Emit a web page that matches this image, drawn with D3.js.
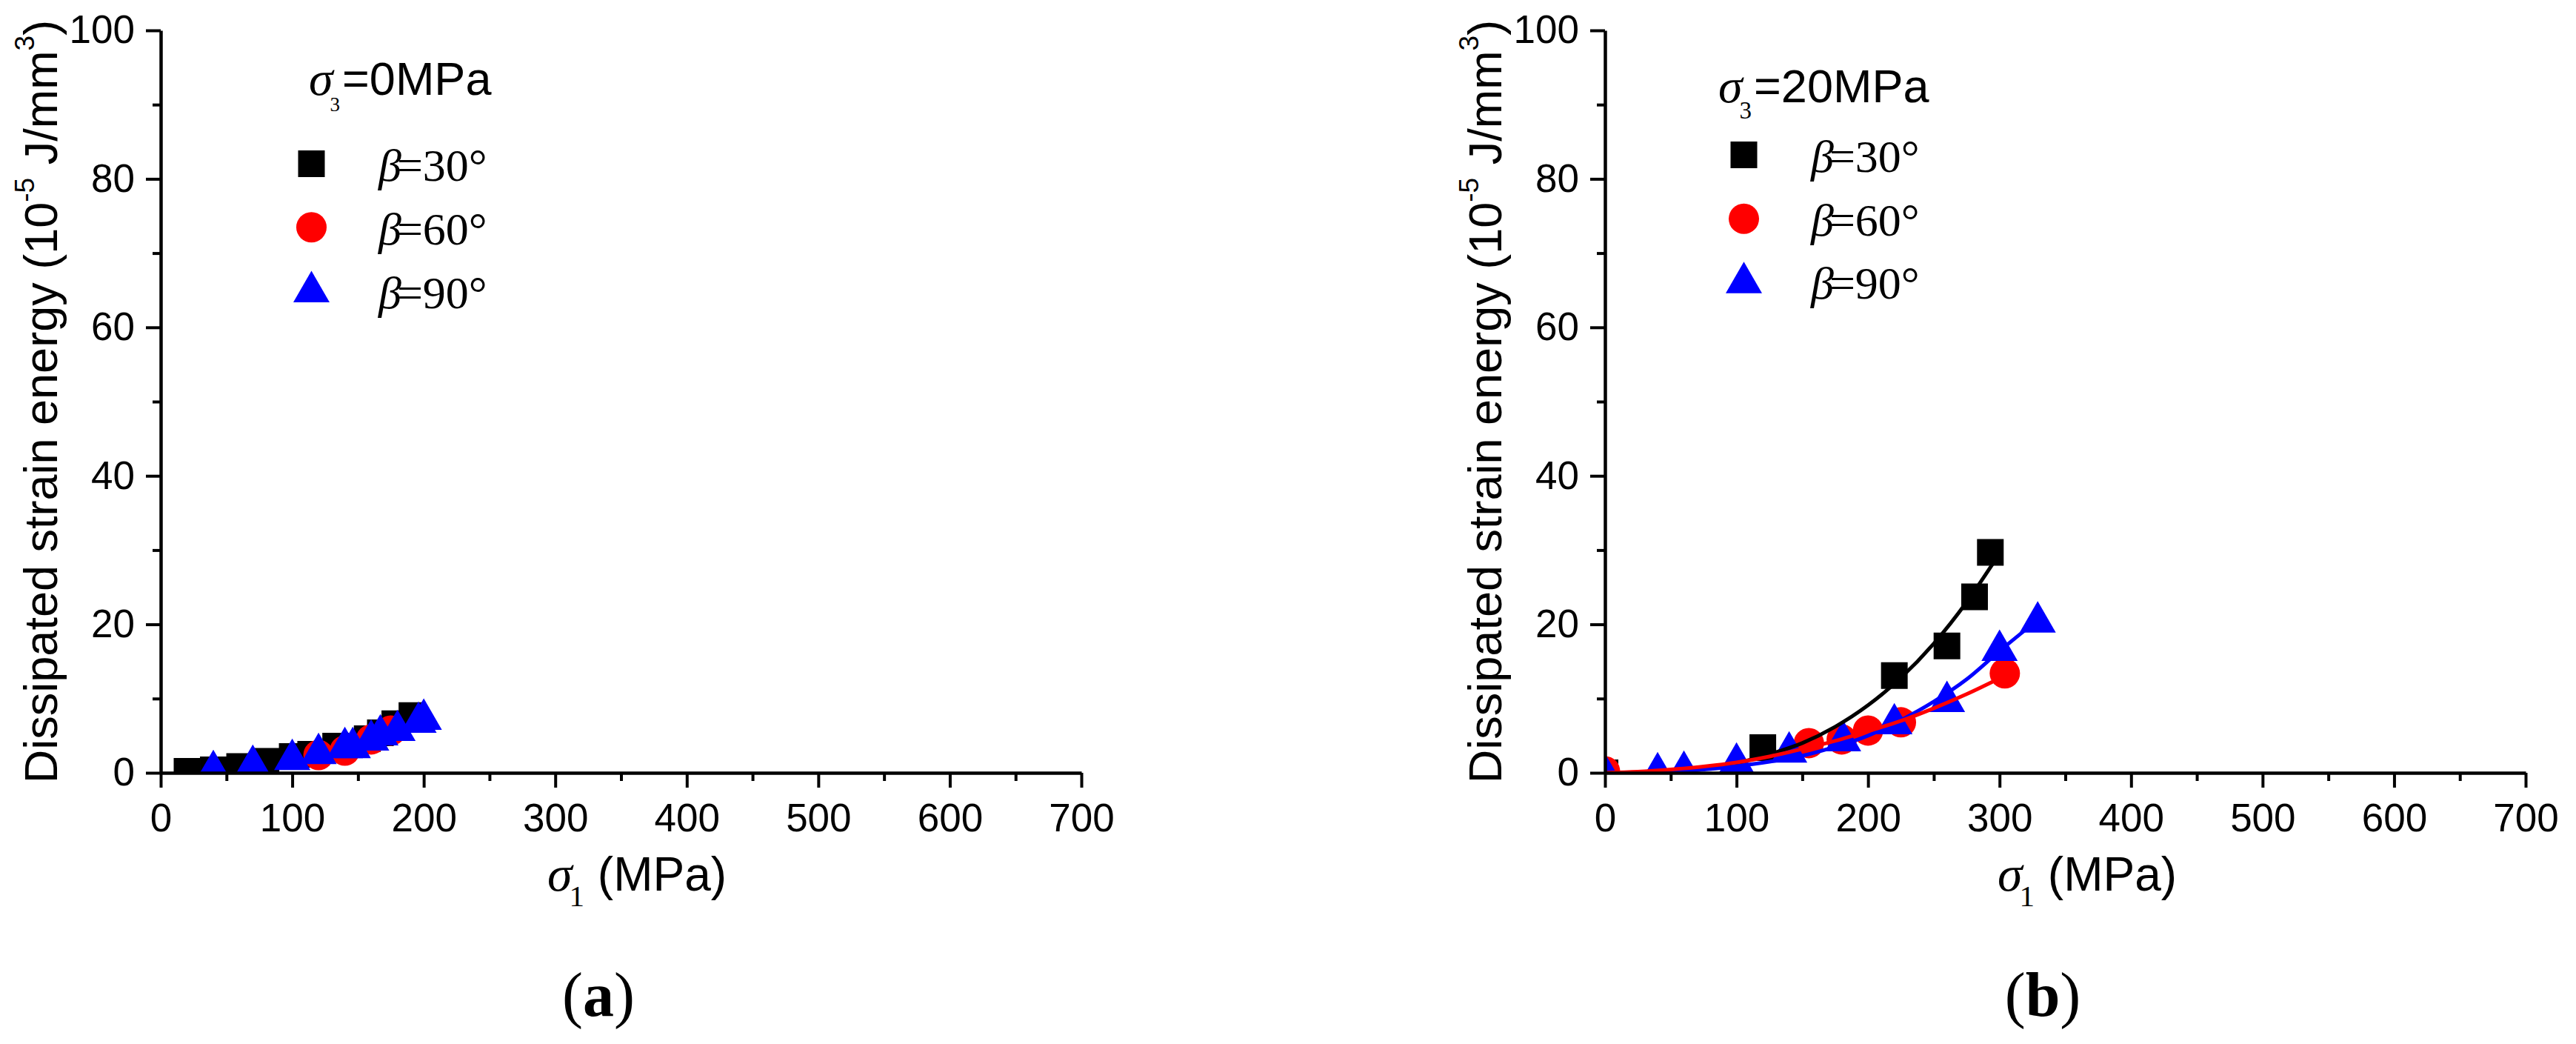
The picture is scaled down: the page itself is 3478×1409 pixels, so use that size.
<!DOCTYPE html>
<html>
<head>
<meta charset="utf-8">
<script src="https://cdn.jsdelivr.net/npm/d3@7"></script>
<style>
  body { margin: 0; background: #fff; }
  text { fill: #000; }
</style>
</head>
<body>
<svg id="chart" width="3478" height="1409"></svg>
<script>
// ---- data ----
// (a) sigma3 = 0 MPa
var a30X = [20, 40, 60, 80, 100, 114, 133, 157, 167, 178, 191];
var a30Y = [0.2, 0.4, 0.85, 1.55, 2.2, 2.5, 3.6, 4.6, 5.4, 6.6, 7.7];
var a60X = [120, 140, 160, 175];
var a60Y = [2.4, 3.0, 4.5, 5.7];
var a90X = [40, 70, 100, 120, 140, 146, 160, 167, 180, 196, 200];
var a90Y = [1.0, 1.7, 2.5, 3.3, 4.1, 4.1, 5.1, 5.8, 6.4, 7.5, 7.9];

// (b) sigma3 = 20 MPa
var b30X = [0, 120, 220, 260, 281, 293];
var b30Y = [0, 3.4, 13.1, 17.1, 23.7, 29.7];
var b60X = [0, 155, 180, 200, 225, 304];
var b60Y = [0.2, 4.0, 4.5, 5.7, 6.8, 13.4];
var b90X = [0, 40, 60, 100, 140, 181, 220, 260, 300, 329];
var b90Y = [0.5, 0.7, 0.9, 2.0, 3.5, 5.0, 7.3, 10.3, 17.2, 21.0];

// fitted curves in (b)
var fit30X = [0, 25, 50, 75, 100, 125, 150, 175, 200, 225, 250, 275, 295];
var fit30Y = [0, 0.02, 0.12, 0.5, 1.3, 2.5, 4.0, 6.2, 9.1, 12.8, 17.4, 23.0, 28.2];
var fit60X = [0, 25, 50, 75, 100, 125, 150, 175, 200, 225, 250, 275, 302];
var fit60Y = [0, 0.15, 0.45, 0.85, 1.4, 2.2, 3.2, 4.3, 5.6, 7.0, 8.7, 10.6, 12.9];
var fit90X = [0, 25, 50, 75, 100, 125, 150, 175, 200, 225, 250, 275, 300, 329];
var fit90Y = [0, 0.05, 0.2, 0.45, 0.9, 1.5, 2.3, 3.5, 5.0, 7.1, 9.6, 12.6, 16.4, 20.6];

var xTicks = [0, 100, 200, 300, 400, 500, 600, 700];
var xMinor = [50, 150, 250, 350, 450, 550, 650];
var yTicks = [0, 20, 40, 60, 80, 100];
var yMinor = [10, 30, 50, 70, 90];
var betaLabels = ['30°', '60°', '90°'];
var colors = ['#000000', '#ff0000', '#0000ff'];

var SANS = '"Liberation Sans", Arial, sans-serif';
var SERIF = '"Liberation Serif", "Times New Roman", serif';

// triangle centred on its bounding box, the way the plotting program draws it
var triangleBox = {
  draw: function(ctx, size) {
    var s = Math.sqrt(size * 4 / Math.sqrt(3));
    var h = s * Math.sqrt(3) / 2;
    ctx.moveTo(0, -h / 2);
    ctx.lineTo(s / 2, h / 2);
    ctx.lineTo(-s / 2, h / 2);
    ctx.closePath();
  }
};
var shapes = [
  d3.symbol().type(d3.symbolSquare).size(1296),
  d3.symbol().type(d3.symbolCircle).size(1320),
  d3.symbol().type(triangleBox).size(1040)
];

var zip = function(xs, ys) { return xs.map(function(x, i) { return [x, ys[i]]; }); };

var panels = [
  {
    id: 'a', left: 217, sigma3: '0MPa', sub3: 27,
    series: [zip(a30X, a30Y), zip(a60X, a60Y), zip(a90X, a90Y)],
    fits: [],
    title: { x: 417, y: 128 },
    legend: { mx: 420.5, tx: 511, rows: [221, 306.7, 386.7], base: [244, 330, 416] },
    xlab: 739, tag: 808
  },
  {
    id: 'b', left: 2167, sigma3: '20MPa', sub3: 33,
    series: [zip(b30X, b30Y), zip(b60X, b60Y), zip(b90X, b90Y)],
    fits: [zip(fit30X, fit30Y), zip(fit60X, fit60Y), zip(fit90X, fit90Y)],
    title: { x: 2320, y: 138 },
    legend: { mx: 2354.5, tx: 2445, rows: [209, 295.3, 374.5], base: [231.7, 318.3, 403.3] },
    xlab: 2697, tag: 2758
  }
];

var svg = d3.select('#chart');
var plotTop = 41, plotBottom = 1043, plotW = 1243;

panels.forEach(function(p) {
  var x = d3.scaleLinear().domain([0, 700]).range([p.left, p.left + plotW]);
  var y = d3.scaleLinear().domain([0, 100]).range([plotBottom, plotTop]);
  var g = svg.append('g').attr('class', 'panel-' + p.id);

  g.append('clipPath').attr('id', 'clip-' + p.id)
    .append('rect')
    .attr('x', x(0)).attr('y', y(100))
    .attr('width', x(700) - x(0)).attr('height', y(0) - y(100));

  var plot = g.append('g').attr('clip-path', 'url(#clip-' + p.id + ')');

  // markers
  p.series.forEach(function(pts, i) {
    plot.append('g').selectAll('path')
      .data(pts)
      .join('path')
      .attr('d', shapes[i])
      .attr('transform', function(d) { return 'translate(' + x(d[0]) + ',' + y(d[1]) + ')'; })
      .attr('fill', colors[i]);
  });

  // fitted curves
  var line = d3.line()
    .x(function(d) { return x(d[0]); })
    .y(function(d) { return y(d[1]); })
    .curve(d3.curveMonotoneX);
  [0, 2, 1].forEach(function(i) {
    if (!p.fits[i]) return;
    plot.append('path')
      .attr('d', line(p.fits[i]))
      .attr('fill', 'none')
      .attr('stroke', colors[i])
      .attr('stroke-width', 5);
  });

  // axes
  var styleAxis = function(sel) {
    sel.selectAll('path.domain').attr('stroke', '#000').attr('stroke-width', 4.5);
    sel.selectAll('line').attr('stroke', '#000').attr('stroke-width', 4);
    sel.selectAll('text').attr('font-family', SANS).attr('font-size', 53).attr('fill', '#000');
  };
  g.append('g').attr('transform', 'translate(0,' + plotBottom + ')')
    .call(d3.axisBottom(x).tickValues(xMinor).tickSize(11).tickFormat(''))
    .call(function(s) { s.select('.domain').remove(); })
    .call(styleAxis);
  g.append('g').attr('transform', 'translate(0,' + plotBottom + ')')
    .call(d3.axisBottom(x).tickValues(xTicks).tickSize(20).tickSizeOuter(0).tickPadding(21).tickFormat(d3.format('d')))
    .call(styleAxis);
  g.append('g').attr('transform', 'translate(' + p.left + ',0)')
    .call(d3.axisLeft(y).tickValues(yMinor).tickSize(11).tickFormat(''))
    .call(function(s) { s.select('.domain').remove(); })
    .call(styleAxis);
  g.append('g').attr('transform', 'translate(' + p.left + ',0)')
    .call(d3.axisLeft(y).tickValues(yTicks).tickSize(20).tickSizeOuter(0).tickPadding(15).tickFormat(d3.format('d')))
    .call(styleAxis);

  // y axis title
  var yt = g.append('text')
    .attr('transform', 'translate(' + (p.left - 140) + ',' + ((plotTop + plotBottom) / 2) + ') rotate(-90)')
    .attr('text-anchor', 'middle')
    .attr('font-family', SANS).attr('font-size', 63);
  yt.append('tspan').text('Dissipated strain energy (10');
  yt.append('tspan').attr('font-size', 37).attr('dy', -31).text('-5');
  yt.append('tspan').attr('dy', 31).text(' J/mm');
  yt.append('tspan').attr('font-size', 37).attr('dy', -31).text('3');
  yt.append('tspan').attr('dy', 31).text(')');

  // x axis title
  var xt = g.append('text').attr('x', p.xlab).attr('y', 1202)
    .attr('font-family', SANS).attr('font-size', 64);
  xt.append('tspan').attr('font-family', SERIF).attr('font-style', 'italic').attr('font-size', 68).text('σ');
  xt.append('tspan').attr('font-family', SERIF).attr('font-size', 41).attr('dx', -4).attr('dy', 21).text('1');
  xt.append('tspan').attr('dy', -21).text(' (MPa)');

  // legend
  var tt = g.append('text').attr('x', p.title.x).attr('y', p.title.y)
    .attr('font-family', SANS).attr('font-size', 63);
  tt.append('tspan').attr('font-family', SERIF).attr('font-style', 'italic').attr('font-size', 66).text('σ');
  tt.append('tspan').attr('font-family', SERIF).attr('font-size', p.sub3).attr('dx', -4).attr('dy', 22).text('3');
  tt.append('tspan').attr('dy', -22).attr('dx', 3).text('=' + p.sigma3);

  betaLabels.forEach(function(lab, i) {
    g.append('path')
      .attr('d', shapes[i])
      .attr('transform', 'translate(' + p.legend.mx + ',' + p.legend.rows[i] + ')')
      .attr('fill', colors[i]);
    var t = g.append('text').attr('x', p.legend.tx).attr('y', p.legend.base[i])
      .attr('font-family', SERIF).attr('font-size', 62);
    t.append('tspan').attr('font-style', 'italic').text('β');
    t.append('tspan').attr('dx', -6).text('=' + lab);
  });

  // panel tag
  var tag = g.append('text').attr('x', p.tag).attr('y', 1371)
    .attr('text-anchor', 'middle')
    .attr('font-family', SERIF).attr('font-size', 84);
  tag.append('tspan').text('(');
  tag.append('tspan').attr('font-weight', 'bold').text(p.id);
  tag.append('tspan').text(')');
});
</script>
</body>
</html>
